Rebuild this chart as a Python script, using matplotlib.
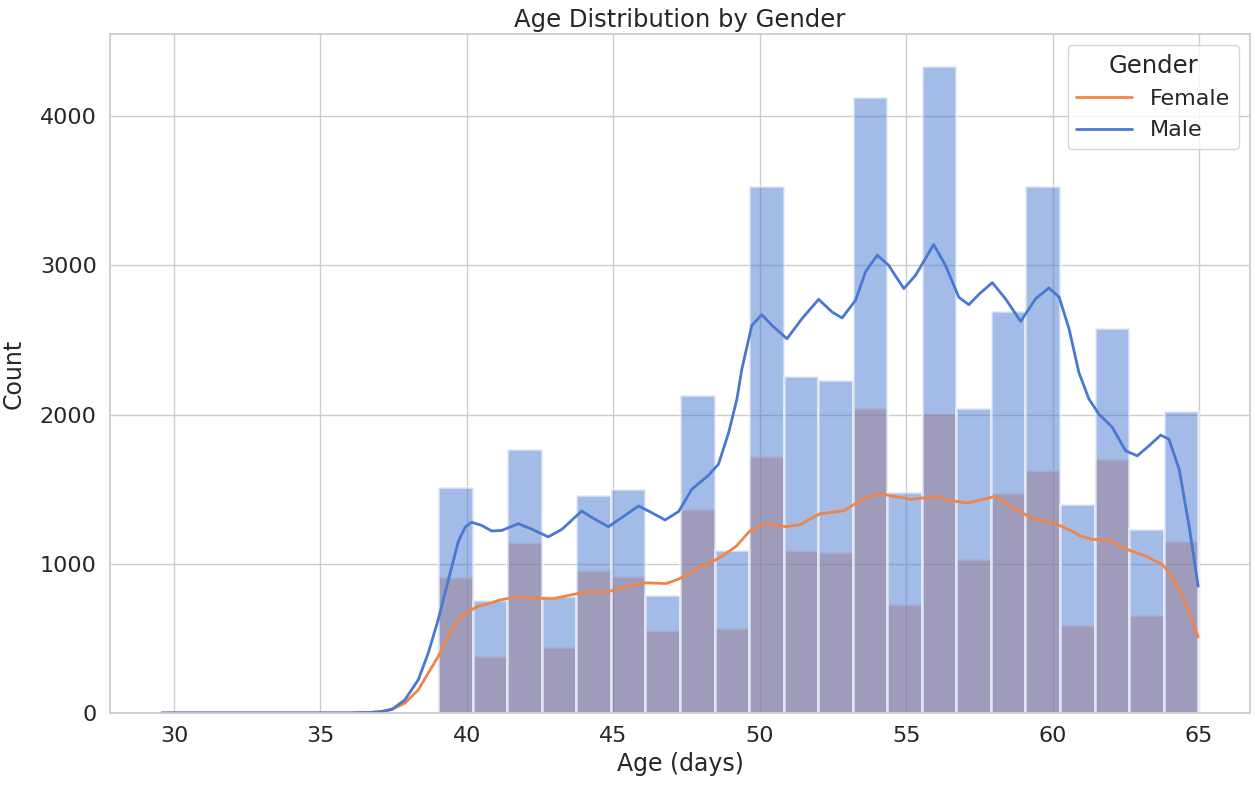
import matplotlib

matplotlib.use("Agg")
import matplotlib.pyplot as plt
import numpy as np
import seaborn as sns

# histogram: 30 bins over the age range, counts read per bin
AGE_MIN = 29.58
AGE_MAX = 64.97
N_BINS = 30

female_counts = [0, 0, 0, 0, 0, 0, 0, 0,
                 908, 380, 1148, 445, 955, 915, 558, 1370, 571, 1722,
                 1094, 1081, 2043, 730, 2013, 1029, 1477, 1629, 591, 1699, 659, 1151]
male_counts = [0, 0, 0, 0, 0, 0, 0, 0,
               1512, 758, 1766, 785, 1459, 1498, 787, 2131, 1089, 3529,
               2261, 2232, 4129, 1480, 4333, 2043, 2695, 3534, 1401, 2579, 1233, 2025]

# kde curves (already scaled to counts)
male_kde_x = [29.58, 33.0, 36.0, 36.7, 37.1, 37.43, 37.88, 38.34, 38.68, 39.02, 39.37,
              39.71, 39.94, 40.16, 40.50, 40.85, 41.19, 41.76, 42.21, 42.78, 43.24,
              43.92, 44.38, 44.83, 45.29, 45.86, 46.31, 46.77, 47.23, 47.68, 48.25,
              48.59, 48.94, 49.22, 49.39, 49.73, 50.07, 50.42, 50.93, 51.44, 52.01,
              52.47, 52.81, 53.27, 53.61, 54.01, 54.40, 54.92, 55.32, 55.94, 56.34,
              56.80, 57.14, 57.48, 57.94, 58.39, 58.91, 59.42, 59.87, 60.22, 60.56,
              60.90, 61.24, 61.58, 62.04, 62.49, 62.89, 63.29, 63.69, 63.97, 64.32,
              64.66, 64.97]
male_kde_y = [0, 0, 0, 3, 10, 22, 87, 222, 401, 625, 894,
              1150, 1245, 1278, 1257, 1219, 1223, 1268, 1232, 1180, 1230,
              1353, 1297, 1248, 1309, 1387, 1342, 1293, 1350, 1499, 1593,
              1667, 1880, 2104, 2306, 2597, 2669, 2597, 2508, 2642, 2772,
              2687, 2647, 2765, 2956, 3068, 3000, 2844, 2933, 3140, 3000,
              2785, 2736, 2805, 2884, 2776, 2624, 2776, 2848, 2788, 2575,
              2280, 2104, 2003, 1914, 1757, 1723, 1790, 1862, 1835, 1634,
              1253, 849]

female_kde_x = [29.58, 33.0, 36.0, 36.7, 37.09, 37.5, 37.88, 38.34, 38.68, 39.02, 39.37,
                39.71, 40.05, 40.39, 40.84, 41.09, 41.66, 42.24, 42.92, 43.60, 44.06,
                44.75, 45.43, 46.12, 46.80, 47.26, 47.95, 48.63, 49.20, 49.66, 50.17,
                50.91, 51.37, 52.05, 52.86, 53.43, 54.07, 54.59, 55.16, 55.96, 56.54,
                57.12, 58.03, 58.61, 59.30, 60.10, 60.67, 60.90, 61.35, 61.92, 62.61,
                63.18, 63.75, 64.09, 64.43, 64.72, 64.97]
female_kde_y = [0, 0, 0, 3, 9, 30, 65, 155, 267, 379, 513,
                625, 681, 715, 737, 755, 778, 771, 764, 793, 811,
                809, 845, 872, 867, 899, 973, 1040, 1118, 1219, 1268,
                1248, 1262, 1334, 1355, 1422, 1471, 1451, 1431, 1451, 1422,
                1407, 1451, 1378, 1305, 1268, 1218, 1190, 1163, 1158, 1091,
                1051, 995, 916, 782, 647, 510]

FEMALE_COLOR = "#ee854a"
MALE_COLOR = "#4878d0"

sns.set_theme(style="whitegrid")
plt.rcParams["font.family"] = ["DejaVu Sans"]

fig, ax = plt.subplots(figsize=(12.55, 7.93), dpi=100)
fig.subplots_adjust(left=0.0876, right=0.996, bottom=0.101, top=0.957)

edges = np.linspace(AGE_MIN, AGE_MAX, N_BINS + 1)
widths = np.diff(edges)

ax.bar(edges[:-1], female_counts, width=widths, align="edge", color=FEMALE_COLOR,
       alpha=0.5, edgecolor="white", linewidth=2)
ax.bar(edges[:-1], male_counts, width=widths, align="edge", color=MALE_COLOR,
       alpha=0.5, edgecolor="white", linewidth=2)

ax.plot(female_kde_x, female_kde_y, color=FEMALE_COLOR, lw=2, label="Female")
ax.plot(male_kde_x, male_kde_y, color=MALE_COLOR, lw=2, label="Male")

ax.set_title("Age Distribution by Gender", fontsize=17.5, pad=5)
ax.set_xlabel("Age (days)", fontsize=17)
ax.set_ylabel("Count", fontsize=17, labelpad=10)
ax.tick_params(labelsize=16)

ax.legend(title="Gender", loc="upper right", fontsize=16, title_fontsize=17.5,
          handlelength=2.5)

fig.savefig("out.png", dpi=100)
